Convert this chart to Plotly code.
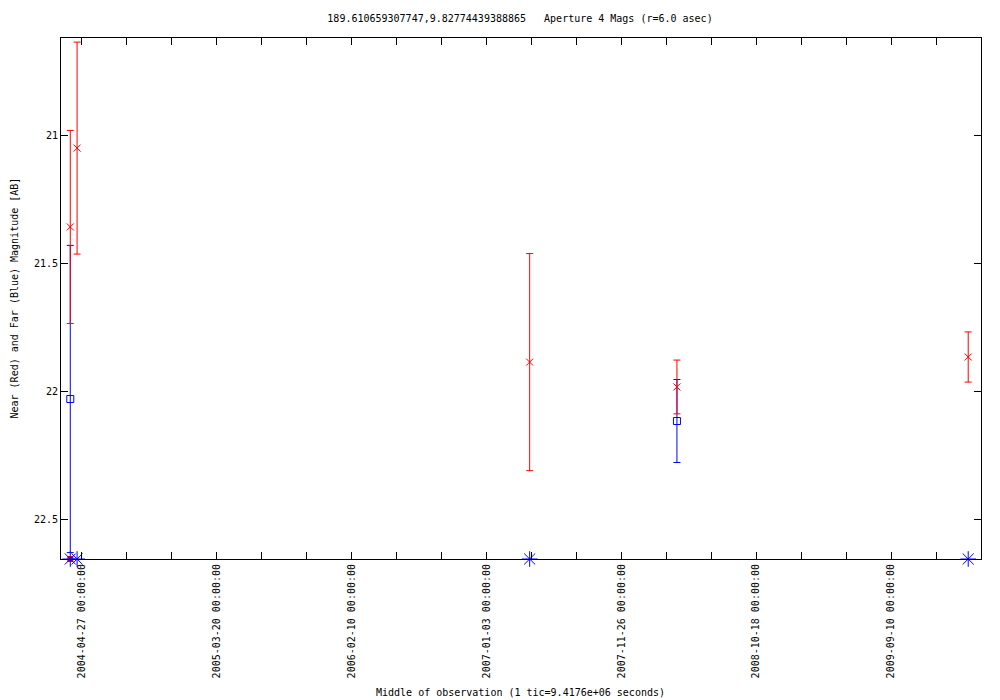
import plotly.graph_objects as go

# ---- data ----
near_dates = ["2004-03-30 12:00", "2004-04-16 00:00", "2007-04-18 00:00", "2008-04-09 00:00", "2010-03-16 00:00"]
near_mag = [21.359, 21.051, 21.887, 21.984, 21.867]
near_err = [0.377, 0.414, 0.424, 0.105, 0.098]

far_dates = ["2004-03-30 12:00", "2008-04-09 00:00"]
far_mag = [22.031, 22.117]
far_err = [0.60, 0.162]

limit_dates = ["2004-03-30 12:00", "2004-04-16 00:00", "2007-04-18 00:00", "2010-03-16 00:00"]
limit_mag = [22.656, 22.656, 22.656, 22.656]

near_limit_dates = ["2004-03-30 12:00"]
near_limit_mag = [22.656]

x_tick_vals = ["2004-04-27", "2005-03-20", "2006-02-10", "2007-01-03", "2007-11-26", "2008-10-18", "2009-09-10"]
x_tick_text = [d + " 00:00:00" for d in x_tick_vals]
y_tick_vals = [21, 21.5, 22, 22.5]
y_tick_text = ["21", "21.5", "22", "22.5"]

title_text = "189.610659307747,9.82774439388865   Aperture 4 Mags (r=6.0 asec)"
x_title = "Middle of observation (1 tic=9.4176e+06 seconds)"
y_title = "Near (Red) and Far (Blue) Magnitude [AB]"

FONT = "DejaVu Sans Mono"

# page has an 8px body margin; size the figure to fit the window exactly
FIG_W, FIG_H = 992, 692
OFF = 8
L, R, T, B = 61 - OFF, FIG_W - (981 - OFF), 38 - OFF, FIG_H - (559 - OFF)
plot_w = FIG_W - L - R
plot_h = FIG_H - T - B

fig = go.Figure()

fig.add_trace(go.Scatter(
    x=far_dates, y=far_mag, mode="markers",
    marker=dict(symbol="square-open", size=7, color="blue", line=dict(color="blue", width=1)),
    error_y=dict(type="data", array=far_err, color="blue", thickness=1, width=3.5),
    showlegend=False))

fig.add_trace(go.Scatter(
    x=near_dates, y=near_mag, mode="markers",
    marker=dict(symbol="x-thin-open", size=7, color="red", line=dict(color="red", width=1)),
    error_y=dict(type="data", array=near_err, color="red", thickness=1, width=3.5),
    showlegend=False))

fig.add_trace(go.Scatter(
    x=near_limit_dates, y=near_limit_mag, mode="markers",
    marker=dict(symbol="square", size=6, color="red", line=dict(color="red", width=0)),
    cliponaxis=False, showlegend=False))

fig.add_trace(go.Scatter(
    x=limit_dates, y=limit_mag, mode="markers",
    marker=dict(symbol="asterisk-open", size=13, color="blue", line=dict(color="blue", width=1)),
    cliponaxis=False, showlegend=False))

fig.update_layout(
    width=FIG_W, height=FIG_H,
    margin=dict(l=L, r=R, t=T, b=B, autoexpand=False),
    paper_bgcolor="white", plot_bgcolor="white",
    font=dict(family=FONT, size=10, color="black"),
    title=dict(text=title_text, x=(520 - 61) / plot_w, xref="paper", y=1 - (18 - OFF) / FIG_H, yref="container",
               xanchor="center", yanchor="middle", font=dict(family=FONT, size=10, color="black")),
    xaxis=dict(
        type="date", range=["2004-03-08", "2010-04-16"],
        tickmode="array", tickvals=x_tick_vals, ticktext=x_tick_text, tickangle=-90,
        ticks="inside", ticklen=7, tickcolor="black", tickwidth=1,
        minor=dict(ticks="inside", ticklen=7, tickcolor="black", tickwidth=1,
                   tick0="2004-04-27", dtick=109 * 86400000, showgrid=False),
        showline=True, linecolor="black", linewidth=1, mirror="ticks",
        showgrid=False, zeroline=False, tickfont=dict(family=FONT, size=10, color="black")),
    yaxis=dict(
        range=[22.656, 20.621],
        tickmode="array", tickvals=y_tick_vals, ticktext=y_tick_text,
        ticks="inside", ticklen=7, tickcolor="black", tickwidth=1,
        showline=True, linecolor="black", linewidth=1, mirror="ticks",
        showgrid=False, zeroline=False, tickfont=dict(family=FONT, size=10, color="black")),
    annotations=[
        dict(text=x_title, x=(520 - 61) / plot_w, xref="paper", y=(559 - 692) / plot_h, yref="paper",
             showarrow=False, font=dict(family=FONT, size=10, color="black"),
             xanchor="center", yanchor="middle"),
        dict(text=y_title, x=(14 - 61) / plot_w, xref="paper", y=0.5, yref="paper", textangle=-90,
             showarrow=False, font=dict(family=FONT, size=10, color="black"),
             xanchor="center", yanchor="middle"),
    ],
)

fig.write_html("out.html")
